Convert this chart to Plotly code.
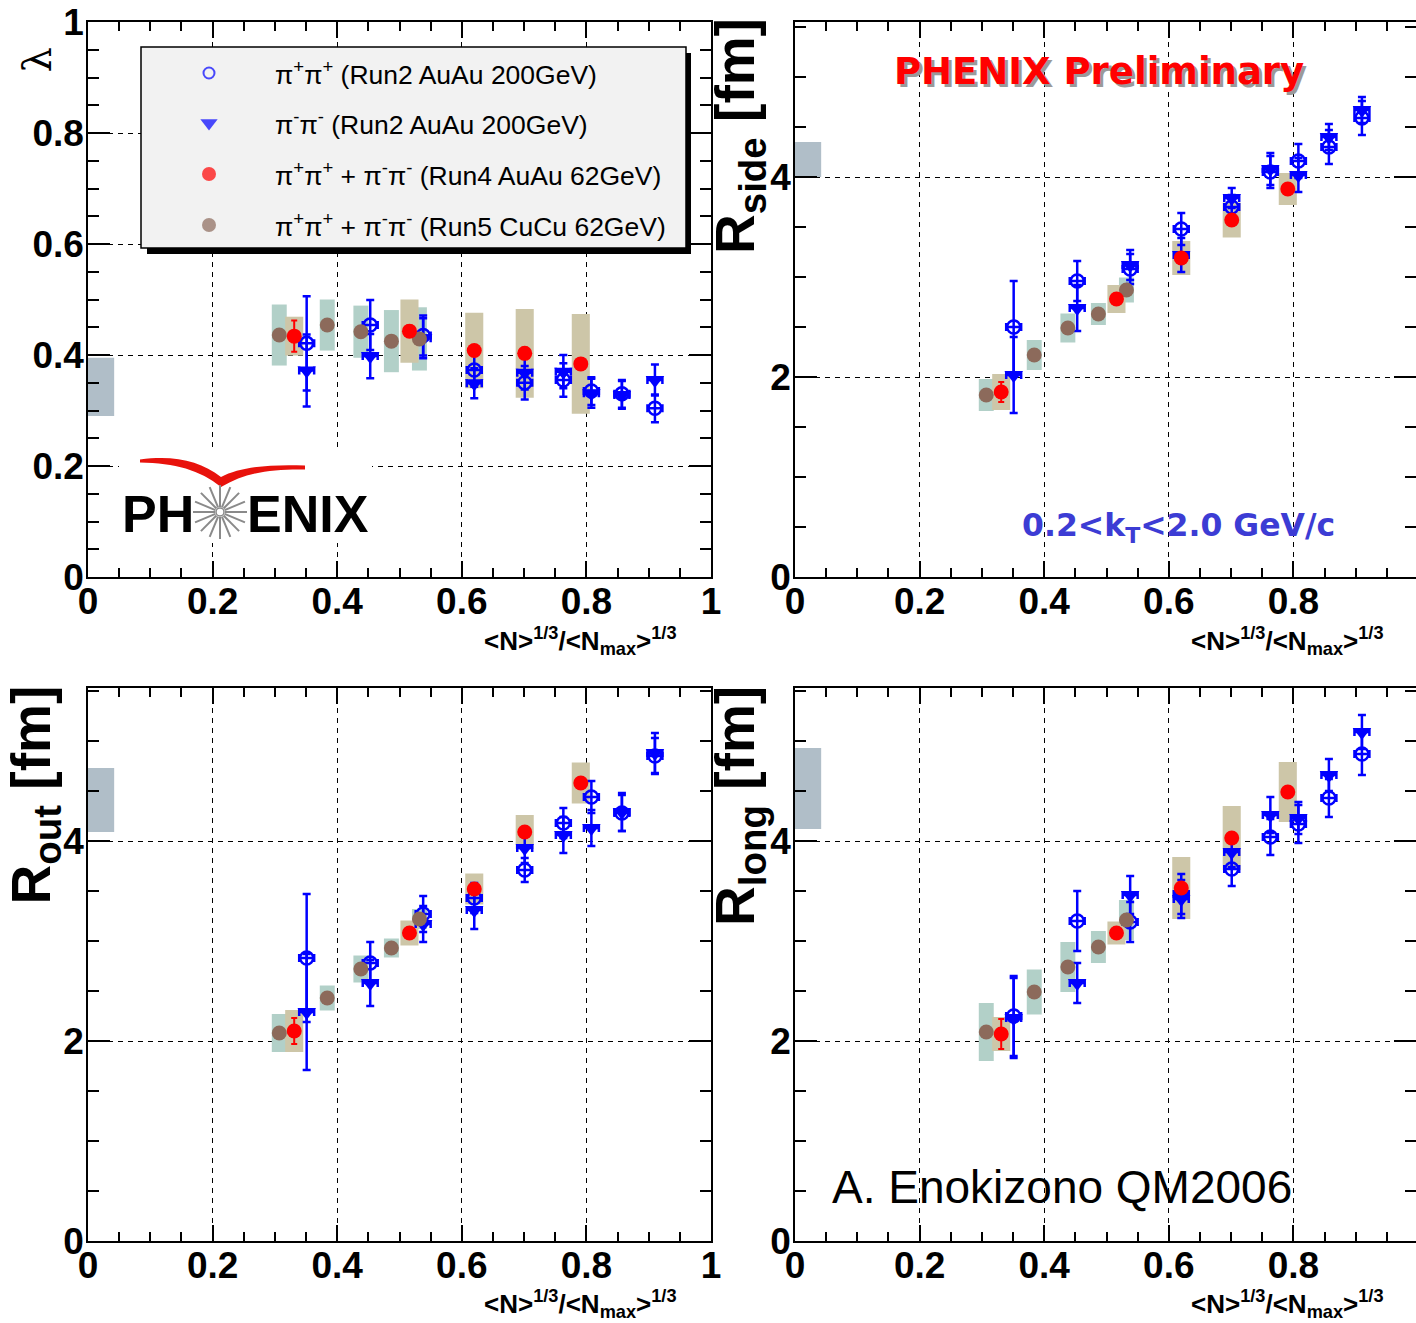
import numpy as np
import plotly.graph_objects as go

# ---------------- data ----------------
# <N>^(1/3)/<Nmax>^(1/3) for each centrality bin
x_run2 = [0.351, 0.453, 0.538, 0.620, 0.701, 0.763, 0.808, 0.857, 0.910]   # AuAu 200 GeV
x_run4 = [0.331, 0.516, 0.620, 0.701, 0.791]                               # AuAu 62 GeV
x_run5 = [0.307, 0.384, 0.438, 0.487, 0.532]                               # CuCu 62 GeV

# lambda
lam_pp = [0.421, 0.454, 0.435, 0.373, 0.350, 0.355, 0.335, 0.330, 0.304]
lam_pp_err = [0.085, 0.045, 0.036, 0.030, 0.030, 0.030, 0.025, 0.025, 0.025]
lam_mm = [0.372, 0.398, 0.430, 0.349, 0.368, 0.370, 0.331, 0.328, 0.355]
lam_mm_err = [0.065, 0.040, 0.036, 0.027, 0.030, 0.030, 0.026, 0.025, 0.028]
lam_au62 = [0.434, 0.443, 0.408, 0.403, 0.384]
lam_au62_err = [0.028, 0.010, 0.010, 0.010, 0.010]
lam_au62_sys = [0.035, 0.057, 0.068, 0.080, 0.090]
lam_cu62 = [0.436, 0.454, 0.442, 0.425, 0.429]
lam_cu62_sys = [0.055, 0.046, 0.047, 0.056, 0.057]

# R_side [fm]
rs_pp = [2.50, 2.96, 3.08, 3.48, 3.70, 4.05, 4.16, 4.30, 4.59]
rs_pp_err = [0.46, 0.20, 0.15, 0.16, 0.12, 0.16, 0.17, 0.17, 0.17]
rs_mm = [2.02, 2.69, 3.12, 3.22, 3.79, 4.08, 4.02, 4.40, 4.67]
rs_mm_err = [0.38, 0.23, 0.15, 0.17, 0.10, 0.16, 0.17, 0.13, 0.13]
rs_au62 = [1.85, 2.78, 3.19, 3.57, 3.88]
rs_au62_err = [0.10, 0.04, 0.04, 0.04, 0.04]
rs_au62_sys = [0.18, 0.14, 0.17, 0.175, 0.16]
rs_cu62 = [1.82, 2.22, 2.49, 2.63, 2.87]
rs_cu62_sys = [0.16, 0.15, 0.145, 0.11, 0.125]

# R_out [fm]
ro_pp = [2.83, 2.78, 3.27, 3.43, 3.71, 4.18, 4.44, 4.28, 4.85]
ro_pp_err = [0.64, 0.21, 0.18, 0.15, 0.12, 0.15, 0.16, 0.18, 0.18]
ro_mm = [2.29, 2.58, 3.17, 3.31, 3.93, 4.06, 4.13, 4.29, 4.88]
ro_mm_err = [0.58, 0.23, 0.18, 0.19, 0.15, 0.18, 0.18, 0.19, 0.20]
ro_au62 = [2.10, 3.08, 3.52, 4.09, 4.58]
ro_au62_err = [0.13, 0.05, 0.05, 0.05, 0.05]
ro_au62_sys = [0.21, 0.125, 0.155, 0.17, 0.205]
ro_cu62 = [2.08, 2.43, 2.72, 2.93, 3.22]
ro_cu62_sys = [0.19, 0.125, 0.135, 0.095, 0.10]

# R_long [fm]
rl_pp = [2.25, 3.20, 3.19, 3.47, 3.72, 4.04, 4.17, 4.43, 4.87]
rl_pp_err = [0.40, 0.30, 0.20, 0.20, 0.17, 0.18, 0.19, 0.19, 0.21]
rl_mm = [2.23, 2.58, 3.46, 3.42, 3.89, 4.26, 4.23, 4.66, 5.09]
rl_mm_err = [0.40, 0.20, 0.19, 0.19, 0.15, 0.18, 0.16, 0.16, 0.17]
rl_au62 = [2.07, 3.08, 3.53, 4.03, 4.49]
rl_au62_err = [0.15, 0.05, 0.05, 0.05, 0.05]
rl_au62_sys = [0.17, 0.115, 0.31, 0.32, 0.30]
rl_cu62 = [2.09, 2.49, 2.74, 2.94, 3.21]
rl_cu62_sys = [0.29, 0.225, 0.25, 0.16, 0.20]

# global normalisation uncertainty bands (low, high) drawn at x = 0
norm_lo = [0.29, 4.00, 4.09, 4.12]
norm_hi = [0.395, 4.35, 4.73, 4.93]

legend_labels = [
    "π<sup>+</sup>π<sup>+</sup> (Run2 AuAu 200GeV)",
    "π<sup>-</sup>π<sup>-</sup> (Run2 AuAu 200GeV)",
    "π<sup>+</sup>π<sup>+</sup> + π<sup>-</sup>π<sup>-</sup> (Run4 AuAu 62GeV)",
    "π<sup>+</sup>π<sup>+</sup> + π<sup>-</sup>π<sup>-</sup> (Run5 CuCu 62GeV)",
]

# ---------------- style ----------------
W, H = 1416, 1323
BLUE = "#0000ff"
RED = "#ff0000"
BROWN = "#8c6a5b"
TAN = "#cdc6a8"
TEAL = "#b2d0c8"
NORM = "#b0bec8"
SANS = "Liberation Sans, Arial, Helvetica, sans-serif"
VERD = "DejaVu Sans, Verdana, sans-serif"


def px(xp):
    return xp / W


def py(yp):
    return 1 - yp / H


panels = [
    dict(s="", y=(lam_pp, lam_pp_err, lam_mm, lam_mm_err, lam_au62, lam_au62_err, lam_au62_sys, lam_cu62, lam_cu62_sys),
         xd=(88, 711), yd=(22, 577), xr=[0, 1], yr=[0, 1], dy=0.2, my=0.05),
    dict(s="2", y=(rs_pp, rs_pp_err, rs_mm, rs_mm_err, rs_au62, rs_au62_err, rs_au62_sys, rs_cu62, rs_cu62_sys),
         xd=(795, 1416), yd=(22, 577), xr=[0, (1416 - 795) / 623], yr=[0, 5.55], dy=2, my=0.5),
    dict(s="3", y=(ro_pp, ro_pp_err, ro_mm, ro_mm_err, ro_au62, ro_au62_err, ro_au62_sys, ro_cu62, ro_cu62_sys),
         xd=(88, 711), yd=(688, 1241), xr=[0, 1], yr=[0, 5.53], dy=2, my=0.5),
    dict(s="4", y=(rl_pp, rl_pp_err, rl_mm, rl_mm_err, rl_au62, rl_au62_err, rl_au62_sys, rl_cu62, rl_cu62_sys),
         xd=(795, 1416), yd=(688, 1241), xr=[0, (1416 - 795) / 623], yr=[0, 5.53], dy=2, my=0.5),
]

fig = go.Figure()
layout_axes = {}

for i, p in enumerate(panels):
    xa, ya = "x" + p["s"], "y" + p["s"]
    pp, pp_e, mm, mm_e, au, au_e, au_s, cu, cu_s = p["y"]

    # normalisation band
    fig.add_trace(go.Bar(x=[0.021], base=[norm_lo[i]], y=[norm_hi[i] - norm_lo[i]], width=[0.042],
                         marker=dict(color=NORM, line=dict(width=0)), opacity=1,
                         xaxis=xa, yaxis=ya, hoverinfo="skip", showlegend=False))
    # systematic boxes
    fig.add_trace(go.Bar(x=x_run5, base=[v - s for v, s in zip(cu, cu_s)], y=[2 * s for s in cu_s],
                         width=[0.024] * len(x_run5), marker=dict(color=TEAL, line=dict(width=0)), opacity=1,
                         xaxis=xa, yaxis=ya, hoverinfo="skip", showlegend=False))
    fig.add_trace(go.Bar(x=x_run4, base=[v - s for v, s in zip(au, au_s)], y=[2 * s for s in au_s],
                         width=[0.029] * len(x_run4), marker=dict(color=TAN, line=dict(width=0)), opacity=1,
                         xaxis=xa, yaxis=ya, hoverinfo="skip", showlegend=False))
    # Run2 AuAu 200 GeV
    ex = dict(type="constant", value=0.012, color=BLUE, thickness=2.5, width=4)
    fig.add_trace(go.Scatter(x=x_run2, y=pp, mode="markers", xaxis=xa, yaxis=ya, showlegend=False,
                             marker=dict(symbol="circle-open", size=13, color=BLUE, line=dict(width=2.5, color=BLUE)),
                             error_y=dict(type="data", array=pp_e, color=BLUE, thickness=2.5, width=4), error_x=ex))
    fig.add_trace(go.Scatter(x=x_run2, y=mm, mode="markers", xaxis=xa, yaxis=ya, showlegend=False,
                             marker=dict(symbol="triangle-down", size=16, color=BLUE),
                             error_y=dict(type="data", array=mm_e, color=BLUE, thickness=2.5, width=4), error_x=ex))
    # Run5 CuCu 62 GeV
    fig.add_trace(go.Scatter(x=x_run5, y=cu, mode="markers", xaxis=xa, yaxis=ya, showlegend=False,
                             marker=dict(symbol="circle", size=15, color=BROWN)))
    # Run4 AuAu 62 GeV
    fig.add_trace(go.Scatter(x=x_run4, y=au, mode="markers", xaxis=xa, yaxis=ya, showlegend=False,
                             marker=dict(symbol="circle", size=15, color=RED),
                             error_y=dict(type="data", array=au_e, color=RED, thickness=2, width=3)))

    tickfont = dict(family=SANS, size=37, color="black", weight="bold")
    common = dict(showline=True, linecolor="black", linewidth=1.5, mirror="allticks", ticks="inside",
                  tickwidth=1.5, tickcolor="black", showgrid=True, gridcolor="black", gridwidth=1.3,
                  griddash="5px,5px", zeroline=False, tickfont=tickfont, fixedrange=True, tick0=0,
                  automargin=False)
    layout_axes["xaxis" + p["s"]] = dict(
        common, domain=[px(p["xd"][0]), px(p["xd"][1])], range=p["xr"], anchor=ya, dtick=0.2, ticklen=16,
        ticklabelstandoff=-9,
        minor=dict(dtick=0.05, tick0=0, ticklen=9, ticks="inside", tickwidth=1.5, tickcolor="black", showgrid=False))
    layout_axes["yaxis" + p["s"]] = dict(
        common, domain=[py(p["yd"][1]), py(p["yd"][0])], range=p["yr"], anchor=xa, dtick=p["dy"], ticklen=22,
        ticklabelstandoff=-5,
        minor=dict(dtick=p["my"], tick0=0, ticklen=11, ticks="inside", tickwidth=1.5, tickcolor="black", showgrid=False))

# ---- legend box (own pixel-unit axes over the lambda panel) ----
leg_x = [209, 209, 209, 209]
leg_y = [73, 123, 174, 225]
fig.add_trace(go.Scatter(x=leg_x, y=leg_y, mode="markers", xaxis="x5", yaxis="y5", showlegend=False,
                         hoverinfo="skip",
                         marker=dict(symbol=["circle-open", "triangle-down", "circle", "circle"], size=[11, 15, 14, 14],
                                     color=[BLUE, BLUE, RED, BROWN], line=dict(width=[2, 0, 0, 0], color=BLUE))))
layout_axes["xaxis5"] = dict(domain=[px(130), px(700)], range=[130, 700], visible=False, anchor="y5",
                             fixedrange=True, automargin=False)
layout_axes["yaxis5"] = dict(domain=[py(262), py(40)], range=[262, 40], visible=False, anchor="x5",
                             fixedrange=True, automargin=False)

# ---- PHENIX logo (own pixel-unit axes) ----
fig.add_trace(go.Scatter(x=[220], y=[512], mode="markers", xaxis="x6", yaxis="y6", showlegend=False, hoverinfo="skip",
                         marker=dict(symbol="circle", size=8, color="white", line=dict(width=1.5, color="#888888"))))
layout_axes["xaxis6"] = dict(domain=[px(100), px(390)], range=[100, 390], visible=False, anchor="y6",
                             fixedrange=True, automargin=False)
layout_axes["yaxis6"] = dict(domain=[py(552), py(440)], range=[552, 440], visible=False, anchor="x6",
                             fixedrange=True, automargin=False)

shapes = [
    dict(type="rect", xref="x5", yref="y5", x0=147, x1=691, y0=53, y1=254, fillcolor="black",
         line=dict(width=0), layer="below"),
    dict(type="rect", xref="x5", yref="y5", x0=141, x1=686, y0=47, y1=248, fillcolor="#f2f2f2",
         line=dict(width=1.5, color="black"), layer="below"),
    dict(type="rect", xref="x6", yref="y6", x0=119, x1=372, y0=447, y1=543, fillcolor="white",
         line=dict(width=0), layer="below"),
    dict(type="path", xref="x6", yref="y6", layer="below", fillcolor="#e8120c", line=dict(width=0),
         path="M140,459.5 C175,455 200,461 221,477 C240,467 270,464 305,465.5 L305,469.5 "
              "C272,469 246,472 221,487 C200,470 175,463 140,462.5 Z"),
]
for a in np.linspace(0, 2 * np.pi, 16, endpoint=False):
    shapes.append(dict(type="line", xref="x6", yref="y6", layer="below",
                       x0=220 + 5 * np.cos(a), y0=512 + 5 * np.sin(a),
                       x1=220 + 27 * np.cos(a), y1=512 + 27 * np.sin(a),
                       line=dict(color="#8a8a8a", width=2)))

annotations = []
for lbl, yy in zip(legend_labels, leg_y):
    annotations.append(dict(text=lbl, xref="x5", yref="y5", x=273, y=yy, xanchor="left", yanchor="middle",
                            showarrow=False, font=dict(family=SANS, size=26.5, color="black")))

annotations += [
    dict(text="PH", xref="x6", yref="y6", x=196, y=514, xanchor="right", yanchor="middle", showarrow=False,
         font=dict(family=SANS, size=52, color="black", weight="bold")),
    dict(text="ENIX", xref="x6", yref="y6", x=245, y=514, xanchor="left", yanchor="middle", showarrow=False,
         font=dict(family=SANS, size=52, color="black", weight="bold")),
]

# x-axis titles
xtitle = "&lt;N&gt;<sup>1/3</sup>/&lt;N<sub>max</sub>&gt;<sup>1/3</sup>"
for xx, yy in [(679, 641), (1386, 641), (679, 1304), (1386, 1304)]:
    annotations.append(dict(text=xtitle, xref="paper", yref="paper", x=px(xx), y=py(yy), xanchor="right",
                            yanchor="middle", showarrow=False,
                            font=dict(family=SANS, size=26, color="black", weight="bold")))

# y-axis titles
annotations += [
    dict(text="λ", xref="paper", yref="paper", x=px(36), y=py(46), xanchor="center", yanchor="top",
         textangle=-90, showarrow=False, font=dict(family="DejaVu Serif, serif", size=40, color="black")),
    dict(text="R<sub>side</sub> [fm]", xref="paper", yref="paper", x=px(739), y=py(16), xanchor="center",
         yanchor="top", textangle=-90, showarrow=False,
         font=dict(family=SANS, size=55, color="black", weight="bold")),
    dict(text="R<sub>out</sub> [fm]", xref="paper", yref="paper", x=px(34), y=py(684), xanchor="center",
         yanchor="top", textangle=-90, showarrow=False,
         font=dict(family=SANS, size=55, color="black", weight="bold")),
    dict(text="R<sub>long</sub> [fm]", xref="paper", yref="paper", x=px(739), y=py(684), xanchor="center",
         yanchor="top", textangle=-90, showarrow=False,
         font=dict(family=SANS, size=55, color="black", weight="bold")),
]

# labels inside the panels
annotations += [
    dict(text="PHENIX Preliminary", xref="paper", yref="paper", x=px(1102), y=py(75), showarrow=False,
         xanchor="center", yanchor="middle", font=dict(family=VERD, size=37, color="#9a9a9a", weight="bold")),
    dict(text="PHENIX Preliminary", xref="paper", yref="paper", x=px(1099), y=py(72), showarrow=False,
         xanchor="center", yanchor="middle", font=dict(family=VERD, size=37, color=RED, weight="bold")),
    dict(text="0.2&lt;k<sub>T</sub>&lt;2.0 GeV/c", xref="paper", yref="paper", x=px(1178), y=py(527),
         showarrow=False, xanchor="center", yanchor="middle",
         font=dict(family=VERD, size=31.5, color="#3c3cd4", weight="bold")),
    dict(text="A. Enokizono QM2006", xref="paper", yref="paper", x=px(1062), y=py(1187), showarrow=False,
         xanchor="center", yanchor="middle", font=dict(family=SANS, size=46, color="black")),
]

fig.update_layout(
    width=W, height=H, margin=dict(l=0, r=0, t=0, b=0, pad=0, autoexpand=False), autosize=False,
    paper_bgcolor="white", plot_bgcolor="rgba(0,0,0,0)",
    barmode="overlay", showlegend=False, shapes=shapes, annotations=annotations,
    **layout_axes,
)

fig.write_html("out.html")
